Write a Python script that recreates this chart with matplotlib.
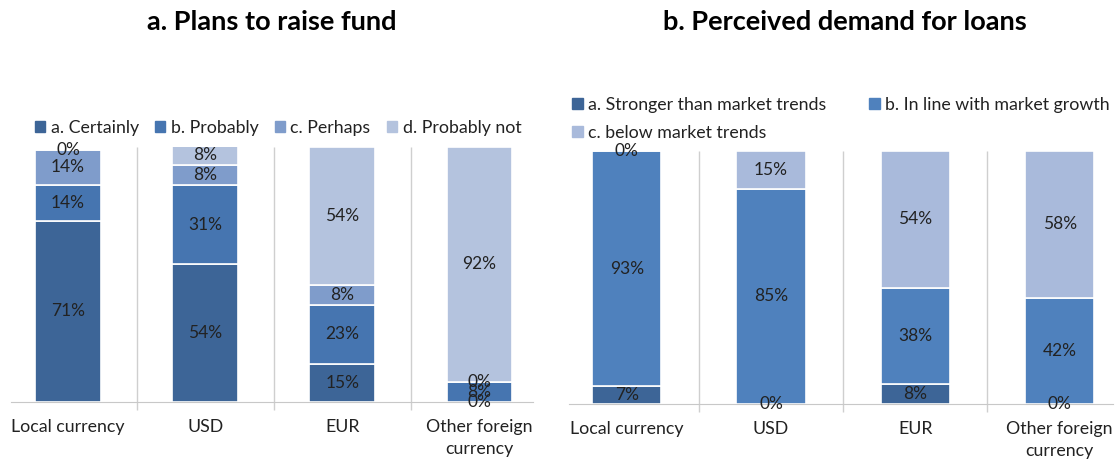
import numpy as np
import matplotlib.pyplot as plt
from matplotlib.patches import Patch

plt.rcParams['font.family'] = ['Lato', 'DejaVu Sans']

# %% data
currencies = ['Local currency', 'USD', 'EUR', 'Other foreign\ncurrency']

fund_labels = ['a. Certainly', 'b. Probably', 'c. Perhaps', 'd. Probably not']
fund_certainly = [71, 54, 15, 0]
fund_probably = [14, 31, 23, 8]
fund_perhaps = [14, 8, 8, 0]
fund_not = [0, 8, 54, 92]

loan_labels = ['a. Stronger than market trends', 'b. In line with market growth',
               'c. below market trends']
loan_stronger = [7, 0, 8, 0]
loan_inline = [93, 85, 38, 42]
loan_below = [0, 15, 54, 58]

fund_colors = ['#3d6597', '#4675b0', '#7f9ccb', '#b4c3de']
loan_colors = ['#3d6597', '#4f81bd', '#a9badb']

W, H = 1115, 462
fig = plt.figure(figsize=(W / 100, H / 100), dpi=100)


def px_axes(x0, x1, ytop, ybot):
    return fig.add_axes([x0 / W, 1 - ybot / H, (x1 - x0) / W, (ybot - ytop) / H])


def stacked(ax, series, colors, xlim):
    x = np.arange(len(currencies))
    bottom = np.zeros(len(currencies))
    for vals, col in zip(series, colors):
        vals = np.array(vals, dtype=float)
        ax.bar(x, vals, 0.48, bottom=bottom, color=col, edgecolor='white',
               linewidth=1.2, zorder=2)
        for xi, b, v in zip(x, bottom, vals):
            ax.text(xi, b + v / 2, f'{int(v)}%', ha='center', va='center',
                    fontsize=12.5, color='#222222', zorder=3)
        bottom += vals
    ax.set_xlim(*xlim)
    ax.set_ylim(0, 100)
    for s in ['top', 'right', 'left']:
        ax.spines[s].set_visible(False)
    ax.spines['bottom'].set_color('#c8c8c8')
    ax.set_yticks([])
    ax.set_xticks(x)
    ax.set_xticklabels(currencies, fontsize=12.8, color='#222222',
                       linespacing=1.45)
    ax.tick_params(axis='x', length=0, pad=12)
    ax.vlines([0.5, 1.5, 2.5], -3, 100, color='#cfcfcf', lw=1,
              clip_on=False, zorder=1)


# %% a. Plans to raise fund
ax1 = px_axes(11, 533, 147, 402)
stacked(ax1, [fund_certainly, fund_probably, fund_perhaps, fund_not],
        fund_colors, (-0.416, 3.39))
fig.text(272 / W, 1 - 22 / H, 'a. Plans to raise fund', ha='center',
         va='center', fontsize=19.5, fontweight='bold')
h1 = [Patch(color=c) for c in fund_colors]
fig.legend(h1, fund_labels, loc='center', bbox_to_anchor=(278 / W, 1 - 128 / H),
           ncol=4, frameon=False, fontsize=12.8, handlelength=0.6,
           handleheight=0.6, handletextpad=0.3, columnspacing=0.9,
           labelcolor='#222222')

# %% b. Perceived demand for loans
ax2 = px_axes(569, 1113, 151, 404)
stacked(ax2, [loan_stronger, loan_inline, loan_below], loan_colors,
        (-0.40, 3.37))
fig.text(845 / W, 1 - 22 / H, 'b. Perceived demand for loans', ha='center',
         va='center', fontsize=19.5, fontweight='bold')
# legend fills column-major: reorder so rows read a, b / c
order = [0, 2, 1]
h2 = [Patch(color=loan_colors[i]) for i in order]
fig.legend(h2, [loan_labels[i] for i in order], loc='upper left',
           bbox_to_anchor=(556 / W, 1 - 81 / H), ncol=2, frameon=False,
           fontsize=12.8, handlelength=0.6, handleheight=0.6,
           handletextpad=0.3, columnspacing=2.4, labelspacing=0.67,
           labelcolor='#222222')

fig.savefig('out.png', dpi=100)
